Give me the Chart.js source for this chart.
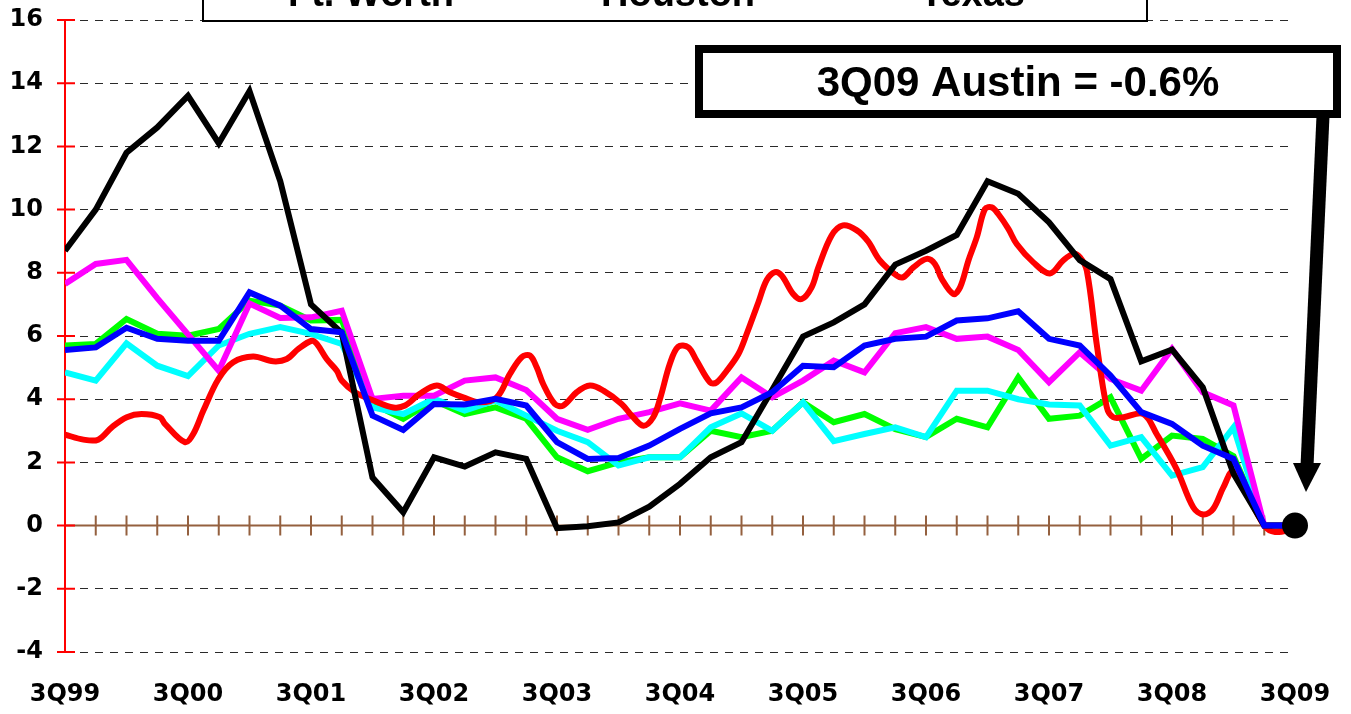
<!DOCTYPE html>
<html>
<head>
<meta charset="utf-8">
<script src="https://cdn.jsdelivr.net/npm/chart.js@4.4.0/dist/chart.umd.min.js"></script>
<style>
  html, body { margin: 0; padding: 0; background: #fff; overflow: hidden; }
</style>
</head>
<body>
<canvas id="growthChart" width="1351" height="714"></canvas>
<script>
// tick labels, one every 4 quarters (3Q99 .. 3Q09)
const yearLabels = ['3Q99', '3Q00', '3Q01', '3Q02', '3Q03', '3Q04', '3Q05', '3Q06', '3Q07', '3Q08', '3Q09'];

// quarterly series, 3Q99 .. 3Q09 (41 quarters)
const austin = [8.7, 10.0, 11.8, 12.6, 13.6, 12.1, 13.75, 10.9, 7.0, 6.1, 1.52, 0.42, 2.16, 1.87, 2.32, 2.11, -0.08, -0.02, 0.1, 0.6,
  1.32, 2.16, 2.64, 4.3, 5.98, 6.43, 7.0, 8.26, 8.7, 9.2, 10.9, 10.5, 9.6, 8.4, 7.8, 5.2, 5.57, 4.38, 1.64, 0, 0];
const ftWorth = [5.7, 5.75, 6.54, 6.07, 6.01, 6.22, 7.12, 6.96, 6.49, 6.51, 3.85, 3.38, 3.96, 3.53, 3.74, 3.38, 2.16, 1.72, 2.0, 2.16,
  2.16, 3.0, 2.8, 3.0, 3.9, 3.27, 3.53, 3.05, 2.8, 3.38, 3.11, 4.69, 3.38, 3.48, 4.06, 2.11, 2.85, 2.74, 2.2, 0, 0];
const houston = [4.85, 4.59, 5.77, 5.06, 4.73, 5.7, 6.07, 6.28, 6.07, 5.75, 3.74, 3.53, 4.01, 3.64, 3.96, 3.48, 3.0, 2.64, 1.9, 2.16,
  2.16, 3.11, 3.55, 3.0, 3.9, 2.67, 2.9, 3.11, 2.8, 4.27, 4.27, 4.0, 3.83, 3.8, 2.53, 2.8, 1.58, 1.85, 3.11, 0, 0];
const sanAntonio = [7.65, 8.28, 8.41, 7.2, 6.05, 4.9, 7.03, 6.57, 6.59, 6.8, 4.01, 4.11, 4.11, 4.59, 4.69, 4.29, 3.38, 3.03, 3.38, 3.59,
  3.87, 3.64, 4.69, 4.06, 4.59, 5.22, 4.85, 6.09, 6.28, 5.91, 5.98, 5.56, 4.54, 5.48, 4.64, 4.27, 5.59, 4.22, 3.8, 0, 0];
const texas = [5.56, 5.64, 6.26, 5.91, 5.85, 5.85, 7.38, 6.96, 6.22, 6.12, 3.48, 3.03, 3.85, 3.83, 4.01, 3.8, 2.64, 2.11, 2.14, 2.53,
  3.06, 3.55, 3.74, 4.22, 5.06, 5.01, 5.7, 5.91, 5.98, 6.49, 6.56, 6.78, 5.91, 5.7, 4.75, 3.59, 3.22, 2.53, 2.11, 0, 0];

// Dallas is drawn from finer (roughly monthly) readings: position in quarters since 3Q99, and value
const dallasQ = [0, 0.6, 1.08, 1.52, 2.01, 2.49, 3.09, 3.25, 3.9, 4.17, 4.5, 4.99, 5.47, 6.12, 6.77, 7.21, 7.59, 8.02, 8.19, 8.51,
  8.84, 9.0, 9.43, 10.03, 10.68, 11.06, 11.54, 12.09, 12.52, 12.95, 13.5, 14.04, 14.47, 14.85, 15.12, 15.34, 15.55, 15.93, 16.2, 16.64,
  17.07, 17.51, 18.1, 18.43, 18.81, 19.13, 19.35, 19.67, 19.94, 20.27, 20.54, 20.98, 21.19, 21.52, 21.9, 22.17, 22.55, 22.82, 23.09, 23.31,
  23.68, 23.96, 24.28, 24.5, 24.93, 25.3, 25.74, 26.11, 26.5, 27.05, 27.26, 27.59, 28.02, 28.29, 28.51, 28.89, 29.11, 29.38, 29.65, 29.92,
  30.14, 30.35, 30.68, 30.95, 31.49, 32.03, 32.46, 32.79, 33.01, 33.23, 33.55, 33.88, 34.09, 34.42, 35.07, 35.5, 36.15, 36.69, 37.02, 37.34,
  37.67, 38.0, 39.0, 39.35, 40.0];
const dallas = [2.88, 2.72, 2.72, 3.11, 3.43, 3.53, 3.43, 3.22, 2.64, 2.9, 3.64, 4.64, 5.17, 5.35, 5.2, 5.27, 5.59, 5.85, 5.75, 5.27,
  4.9, 4.59, 4.22, 3.96, 3.74, 3.8, 4.17, 4.43, 4.22, 4.06, 3.9, 4.06, 4.8, 5.33, 5.38, 5.01, 4.48, 3.85, 3.8, 4.22,
  4.43, 4.27, 3.85, 3.48, 3.16, 3.43, 4.01, 5.12, 5.66, 5.64, 5.22, 4.53, 4.53, 4.9, 5.43, 6.07, 7.07, 7.77, 8.02, 7.91,
  7.33, 7.17, 7.54, 8.17, 9.18, 9.5, 9.35, 9.0, 8.39, 7.91, 7.86, 8.17, 8.44, 8.28, 7.81, 7.33, 7.54, 8.39, 9.12, 10.02,
  10.07, 9.86, 9.39, 8.91, 8.33, 7.98, 8.39, 8.6, 8.49, 8.07, 5.75, 3.74, 3.43, 3.43, 3.53, 2.9, 1.79, 0.58, 0.35, 0.53,
  1.21, 1.7, 0, -0.2, -0.1];

const annotationText = '3Q09 Austin = -0.6%';

const quarterly = vals => vals.map((v, i) => ({ x: i, y: v }));
const tickFont = { family: 'DejaVu Sans', size: 24, weight: 'bold' };

const decorPlugin = {
  id: 'decor',
  beforeDatasetsDraw(chart) {
    const { ctx, chartArea: a, scales: { x, y } } = chart;
    const y0 = y.getPixelForValue(0);
    ctx.save();
    // brown zero line with a tick every quarter
    ctx.strokeStyle = '#94603f';
    ctx.lineWidth = 2;
    ctx.beginPath();
    ctx.moveTo(a.left, y0);
    ctx.lineTo(a.right, y0);
    for (let i = 0; i <= 40; i++) {
      const px = x.getPixelForValue(i);
      ctx.moveTo(px, y0 - 10);
      ctx.lineTo(px, y0 + 10);
    }
    ctx.stroke();
    // red value axis
    ctx.strokeStyle = '#ff0000';
    ctx.beginPath();
    ctx.moveTo(a.left, a.top);
    ctx.lineTo(a.left, a.bottom);
    y.ticks.forEach(t => {
      const py = y.getPixelForValue(t.value);
      ctx.moveTo(a.left - 8, py);
      ctx.lineTo(a.left + 10, py);
    });
    ctx.stroke();
    ctx.restore();
  },
  afterDatasetsDraw(chart) {
    const { ctx, scales: { x, y } } = chart;
    ctx.save();

    // legend (only the bottom of its second row shows)
    ctx.fillStyle = '#fff';
    ctx.fillRect(203, -60, 944, 81);
    ctx.strokeStyle = '#000';
    ctx.lineWidth = 2;
    ctx.strokeRect(203, -60, 944, 81);
    const cols = [288, 601, 920];
    ctx.font = 'bold 38px "Liberation Sans", Arial, sans-serif';
    ctx.textBaseline = 'alphabetic';
    ctx.textAlign = 'left';
    chart.data.datasets.forEach((ds, i) => {
      const row = Math.floor(i / 3), col = i % 3;
      const base = row === 0 ? -40 : 6;
      ctx.strokeStyle = ds.borderColor;
      ctx.lineWidth = 6;
      ctx.beginPath();
      ctx.moveTo(cols[col] - 62, base - 13);
      ctx.lineTo(cols[col] - 12, base - 13);
      ctx.stroke();
      ctx.fillStyle = '#000';
      ctx.fillText(ds.label, cols[col], base);
    });

    // annotation box
    ctx.fillStyle = '#fff';
    ctx.fillRect(699, 49, 638, 65);
    ctx.strokeStyle = '#000';
    ctx.lineWidth = 8;
    ctx.strokeRect(699, 49, 638, 65);
    ctx.fillStyle = '#000';
    ctx.font = 'bold 42px "Liberation Sans", Arial, sans-serif';
    ctx.textAlign = 'center';
    ctx.textBaseline = 'middle';
    ctx.fillText(annotationText, 1018, 84);

    // arrow
    ctx.lineWidth = 13;
    ctx.lineCap = 'butt';
    ctx.beginPath();
    ctx.moveTo(1323, 116);
    ctx.lineTo(1307, 466);
    ctx.stroke();
    ctx.beginPath();
    ctx.moveTo(1293, 463);
    ctx.lineTo(1321, 463);
    ctx.lineTo(1306, 492);
    ctx.closePath();
    ctx.fill();

    // end marker
    ctx.beginPath();
    ctx.arc(x.getPixelForValue(40), y.getPixelForValue(0), 13, 0, Math.PI * 2);
    ctx.fill();
    ctx.restore();
  }
};

const ctx = document.getElementById('growthChart').getContext('2d');
new Chart(ctx, {
  type: 'line',
  data: {
    datasets: [
      { label: 'Austin', data: quarterly(austin), borderColor: '#000000', order: 2 },
      { label: 'Dallas', data: dallasQ.map((q, i) => ({ x: q, y: dallas[i] })), borderColor: '#ff0000', tension: 0.35, order: 3 },
      { label: 'San Antonio', data: quarterly(sanAntonio), borderColor: '#ff00ff', order: 4 },
      { label: 'Ft. Worth', data: quarterly(ftWorth), borderColor: '#00ff00', order: 6 },
      { label: 'Houston', data: quarterly(houston), borderColor: '#00ffff', order: 5 },
      { label: 'Texas', data: quarterly(texas), borderColor: '#0000ff', order: 1 }
    ]
  },
  options: {
    responsive: false,
    animation: false,
    devicePixelRatio: 1,
    layout: { padding: { top: 20, right: 56, bottom: 0, left: 0 } },
    elements: {
      line: { borderWidth: 6, fill: false, tension: 0 },
      point: { radius: 0, hoverRadius: 0 }
    },
    plugins: {
      legend: { display: false },
      tooltip: { enabled: false }
    },
    scales: {
      x: {
        type: 'linear',
        min: 0,
        max: 40,
        afterFit: s => { s.height = 62; s.paddingLeft = 0; s.paddingRight = 0; },
        afterBuildTicks: s => { s.ticks = yearLabels.map((_, i) => ({ value: i * 4 })); },
        ticks: {
          font: tickFont,
          color: '#000',
          padding: 28,
          maxRotation: 0,
          autoSkip: false,
          callback: v => yearLabels[v / 4]
        },
        grid: { display: false, drawTicks: false },
        border: { display: false }
      },
      y: {
        min: -4,
        max: 16,
        afterFit: s => { s.width = 65; s.paddingTop = 0; s.paddingBottom = 0; },
        ticks: { stepSize: 2, font: tickFont, color: '#000', padding: 22 },
        grid: {
          drawTicks: false,
          lineWidth: 1,
          color: c => (c.tick && c.tick.value === 0 ? 'rgba(0,0,0,0)' : '#2a2a2a')
        },
        border: { display: false, dash: [8, 7] }
      }
    }
  },
  plugins: [decorPlugin]
});
</script>
</body>
</html>
